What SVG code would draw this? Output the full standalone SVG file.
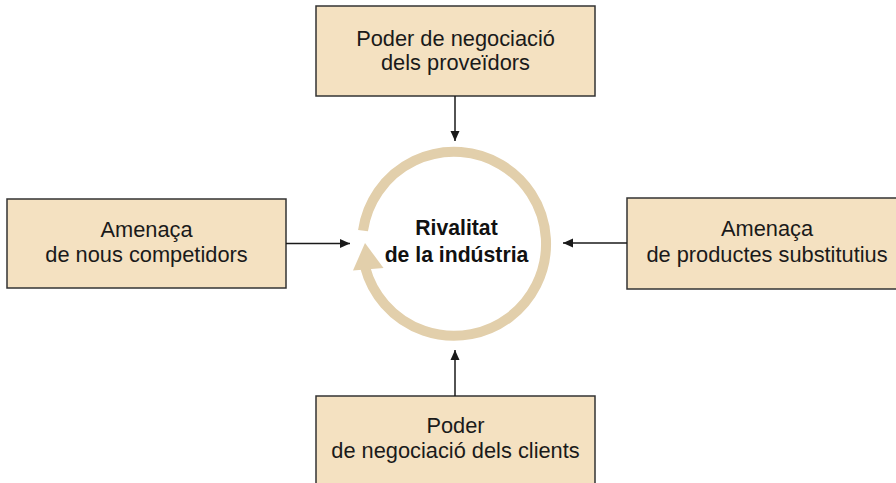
<svg xmlns="http://www.w3.org/2000/svg" width="896" height="483" viewBox="0 0 896 483">
<style>
.box{fill:#f4e1c1;stroke:#333;stroke-width:1.5}
.t{font-family:"Liberation Sans",Arial,sans-serif;font-size:21.8px;fill:#1a1a1a;text-anchor:middle}
.b{font-family:"Liberation Sans",Arial,sans-serif;font-size:21.2px;font-weight:bold;fill:#111;text-anchor:middle}
.con{stroke:#1a1a1a;stroke-width:1.5;fill:none;marker-end:url(#ah)}
</style>
<defs>
<marker id="ah" markerUnits="userSpaceOnUse" markerWidth="11" markerHeight="10" refX="10" refY="5" orient="auto">
<path d="M0,0.5 L10,5 L0,9.5 z" fill="#1a1a1a"/>
</marker>
</defs>
<rect width="896" height="483" fill="#fff"/>
<g id="center">
<path d="M363,230.6 A92,92 0 1 1 365.1,267.3" fill="none" stroke="#e2cfab" stroke-width="10"/>
<polygon points="365,243 353,270.5 383.5,268" fill="#e2cfab"/>
<text class="b" x="456.5" y="235">Rivalitat</text>
<text class="b" x="456.5" y="261.5">de la indústria</text>
</g>
<g id="top">
<rect class="box" x="316" y="6" width="279" height="90"/>
<text class="t" x="455.5" y="45.5">Poder de negociació</text>
<text class="t" x="455.5" y="70">dels proveïdors</text>
</g>
<g id="left">
<rect class="box" x="7" y="199" width="279" height="89"/>
<text class="t" x="146.5" y="236.5">Amenaça</text>
<text class="t" x="146.5" y="261.5">de nous competidors</text>
</g>
<g id="right">
<rect class="box" x="627" y="198" width="280" height="91"/>
<text class="t" x="767" y="236">Amenaça</text>
<text class="t" x="767" y="261.5">de productes substitutius</text>
</g>
<g id="bottom">
<rect class="box" x="316" y="396" width="279" height="95"/>
<text class="t" x="455.5" y="433">Poder</text>
<text class="t" x="455.5" y="458">de negociació dels clients</text>
</g>
<g id="connectors">
<line class="con" x1="455" y1="96" x2="455" y2="141"/>
<line class="con" x1="286" y1="243.5" x2="350" y2="243.5"/>
<line class="con" x1="627" y1="243" x2="563" y2="243"/>
<line class="con" x1="455" y1="396" x2="455" y2="350"/>
</g>
</svg>
